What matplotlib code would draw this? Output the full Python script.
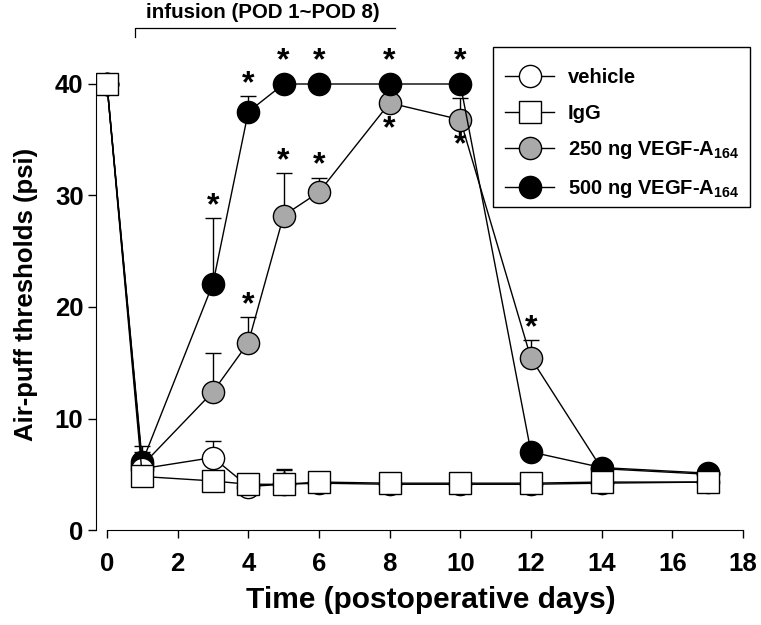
import numpy as np
import matplotlib
matplotlib.use('Agg')
import matplotlib.pyplot as plt
from matplotlib.lines import Line2D
from matplotlib.patches import Rectangle

plt.rcParams['font.family'] = ['Liberation Sans', 'DejaVu Sans']
plt.rcParams['font.weight'] = 'bold'
plt.rcParams['mathtext.fontset'] = 'custom'
plt.rcParams['mathtext.rm'] = 'Liberation Sans:bold'
plt.rcParams['mathtext.bf'] = 'Liberation Sans:bold'
plt.rcParams['mathtext.default'] = 'bf'

# ---------------- data ----------------
days = [0, 1, 3, 4, 5, 6, 8, 10, 12, 14, 17]

vehicle     = [40, 5.5, 6.5, 3.9, 4.1, 4.2, 4.1, 4.1, 4.1, 4.2, 4.3]
vehicle_err = [0, 0.5, 1.5, 0.3, 1.4, 0.5, 0.3, 0.3, 0.6, 0.3, 0.3]

igg     = [40, 4.8, 4.4, 4.1, 4.1, 4.3, 4.2, 4.2, 4.2, 4.3, 4.3]
igg_err = [0, 0.3, 0.3, 0.3, 1.3, 0.6, 0.3, 0.3, 0.9, 0.3, 0.3]

v250     = [40, 5.8, 12.4, 16.8, 28.2, 30.3, 38.3, 36.8, 15.4, 5.5, 5.0]
v250_err = [0, 1.2, 3.5, 2.3, 3.8, 1.3, 0.0, 1.9, 1.6, 0.3, 0.2]

v500     = [40, 6.1, 22.1, 37.5, 40, 40, 40, 40, 7.0, 5.6, 5.1]
v500_err = [0, 1.4, 5.9, 1.4, 0, 0, 0, 0, 0.3, 0.3, 0.2]

# significance marks: day, above (+1) / below (-1)
stars_500 = [(3, 1), (4, 1), (5, 1), (6, 1), (8, 1), (10, 1)]
stars_250 = [(4, 1), (5, 1), (6, 1), (8, -1), (10, -1), (12, 1)]

labels = ['vehicle', 'IgG', '250 ng VEGF-A$_{164}$', '500 ng VEGF-A$_{164}$']

# ---------------- figure ----------------
W, H = 761, 625
fig = plt.figure(figsize=(W / 100, H / 100), dpi=100)
ax = fig.add_axes([96 / W, (H - 530) / H, 659 / W, 510 / H])
ax.set_xlim(-0.31, 18.34)
ax.set_ylim(0, 510 / 11.15)

ms = 16
kw = dict(color='black', lw=1.0, markeredgecolor='black', markeredgewidth=1.0,
          ms=ms, ecolor='black', elinewidth=1.0, capsize=6, capthick=1.0)

def series(y, err, marker, face, z):
    lo = np.zeros(len(y))
    ax.errorbar(days, y, yerr=[lo, err], marker=marker, markerfacecolor=face,
                zorder=z, **kw)

series(v250, v250_err, 'o', '#a9a9a9', 3)
series(v500, v500_err, 'o', 'black', 4)
series(vehicle, vehicle_err, 'o', 'white', 5)
series(igg, igg_err, 's', 'white', 6)

px_per_unit = 11.15
def put_stars(stars, y, err):
    for d, side in stars:
        i = days.index(d)
        if side > 0:
            top_px = max(err[i] * px_per_unit, 11)
            off = (top_px + 12) * 0.72
        else:
            off = -26 * 0.72
        ax.annotate('*', (d, y[i]), xytext=(0, off), textcoords='offset points',
                    ha='center', va='center', fontsize=23, fontweight='bold',
                    zorder=10, annotation_clip=False)

put_stars(stars_500, v500, v500_err)
put_stars(stars_250, v250, v250_err)

# infusion bracket
yb = (530 - 28) / 11.15
ax.plot([0.79, 0.79, 8.15], [yb - 0.85, yb, yb], color='black', lw=0.9, clip_on=False)
ax.text(4.4, yb + 0.55, 'infusion (POD 1~POD 8)', ha='center', va='bottom',
        fontsize=14.8, fontweight='bold')

# axes styling
for s in ['top', 'right']:
    ax.spines[s].set_visible(False)
ax.spines['left'].set_bounds(0, 40)
ax.spines['bottom'].set_bounds(0, 18)
ax.set_xticks(range(0, 19, 2))
ax.set_yticks(range(0, 41, 10))
ax.tick_params(direction='out', length=6, width=1, labelsize=18.5, pad=3)
ax.tick_params(axis='x', pad=10)
for lab in ax.get_xticklabels() + ax.get_yticklabels():
    lab.set_fontweight('bold')

fig.text(431 / W, 1 - 600 / H, 'Time (postoperative days)', ha='center', va='center',
         fontsize=21.5, fontweight='bold')
fig.text(26 / W, 1 - 294 / H, 'Air-puff thresholds (psi)', ha='center', va='center',
         rotation=90, fontsize=18.5, fontweight='bold')

# legend (entries without frame + separate box)
handles = [
    Line2D([], [], color='black', lw=1, marker='o', ms=ms, mfc='white', mec='black'),
    Line2D([], [], color='black', lw=1, marker='s', ms=ms, mfc='white', mec='black'),
    Line2D([], [], color='black', lw=1, marker='o', ms=ms, mfc='#a9a9a9', mec='black'),
    Line2D([], [], color='black', lw=1, marker='o', ms=ms, mfc='black', mec='black'),
]
ax.add_patch(Rectangle((0.6024, 0.6333), 0.39, 0.3137, transform=ax.transAxes,
                       facecolor='white', edgecolor='black', lw=1.0, zorder=19,
                       clip_on=False))
leg = ax.legend(handles, labels, loc='upper right', bbox_to_anchor=(0.9925, 0.927),
                frameon=False, handlelength=2.45, labelspacing=0.82, borderpad=0.55,
                handletextpad=0.67, borderaxespad=0,
                prop={'weight': 'bold', 'size': 14.5})
leg.set_zorder(20)

fig.savefig('out.png', dpi=100)
